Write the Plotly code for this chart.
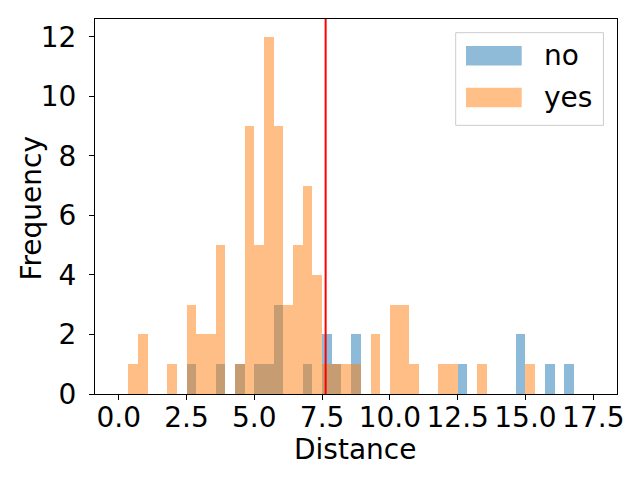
import numpy as np
import plotly.graph_objects as go

# histogram counts per bin, 49 equal bins spanning 0 .. 17.5
bin_start = 0.0
bin_end = 17.5
no_counts = [0, 0, 0, 0, 0, 0, 0, 1, 0, 0, 1, 0, 1, 0, 1, 1, 3, 0, 0, 1,
             0, 2, 1, 0, 2, 0, 0, 0, 0, 0, 0, 0, 0, 0, 0, 1, 0, 0, 0, 0,
             0, 2, 0, 0, 1, 0, 1, 0, 0]
yes_counts = [0, 1, 2, 0, 0, 1, 0, 3, 2, 2, 5, 0, 1, 9, 5, 12, 9, 3, 5, 7,
              4, 1, 1, 1, 1, 0, 2, 0, 3, 3, 1, 0, 0, 1, 1, 0, 0, 1, 0, 0,
              0, 0, 1, 0, 0, 0, 0, 0, 0]
threshold = 7.63
series_names = ["no", "yes"]
x_label = "Distance"
y_label = "Frequency"

edges = np.linspace(bin_start, bin_end, len(no_counts) + 1)
centers = (edges[:-1] + edges[1:]) / 2
width = edges[1] - edges[0]

blue = "#1f77b4"
orange = "#ff7f0e"
font = "DejaVu Sans"

fig = go.Figure()
for name, counts, col in [(series_names[0], no_counts, blue),
                          (series_names[1], yes_counts, orange)]:
  fig.add_trace(go.Bar(x=centers, y=counts, width=width, name=name,
                       marker=dict(color=col, line=dict(width=0)),
                       opacity=0.5, showlegend=False))

# vertical threshold line
fig.add_shape(type="line", x0=threshold, x1=threshold, y0=0, y1=1,
              xref="x", yref="paper", line=dict(color="red", width=2))

# matplotlib-like legend drawn by hand
fig.add_shape(type="rect", xref="paper", yref="paper", x0=0.691, x1=0.974,
              y0=0.7165, y1=0.9635, line=dict(color="#cccccc", width=1),
              fillcolor="rgba(255,255,255,0.8)")
legend_rows = [(series_names[0], blue, 0.902), (series_names[1], orange, 0.791)]
for name, col, yc in legend_rows:
  fig.add_shape(type="rect", xref="paper", yref="paper", x0=0.7107, x1=0.8174,
                y0=yc - 0.026, y1=yc + 0.026, line=dict(width=0),
                fillcolor=col, opacity=0.5)
  fig.add_annotation(text=name, xref="paper", yref="paper", x=0.857, y=yc,
                     xanchor="left", yanchor="middle", showarrow=False,
                     font=dict(family=font, size=28, color="black"))

# axis titles
fig.add_annotation(text=x_label, xref="paper", yref="paper", x=0.498, y=-0.147,
                   xanchor="center", yanchor="middle", showarrow=False,
                   borderpad=0,
                   font=dict(family=font, size=28, color="black"))
fig.add_annotation(text=y_label, xref="paper", yref="paper", x=-0.1207, y=0.497,
                   xanchor="center", yanchor="middle", showarrow=False,
                   textangle=-90, font=dict(family=font, size=28, color="black"))

axis_common = dict(showline=True, linecolor="black", linewidth=1, mirror=True,
                   ticks="outside", ticklen=5, tickwidth=1, tickcolor="black",
                   showgrid=False, zeroline=False, automargin=False,
                   tickfont=dict(family=font, size=28, color="black"))

fig.update_xaxes(range=[-0.875, 18.375], tickmode="array",
                 tickvals=[0, 2.5, 5, 7.5, 10, 12.5, 15, 17.5],
                 tickformat=".1f", ticklabelstandoff=-7, **axis_common)
fig.update_yaxes(range=[0, 12.6], tickmode="array",
                 tickvals=[0, 2, 4, 6, 8, 10, 12],
                 ticklabelstandoff=7, **axis_common)

fig.update_layout(width=640, height=480, barmode="overlay", bargap=0,
                  plot_bgcolor="white", paper_bgcolor="white",
                  margin=dict(l=95, r=23, t=19, b=86),
                  font=dict(family=font, size=28, color="black"))

fig.write_html("out.html", config={"displayModeBar": False},
               post_script="document.body.style.margin='0';")
